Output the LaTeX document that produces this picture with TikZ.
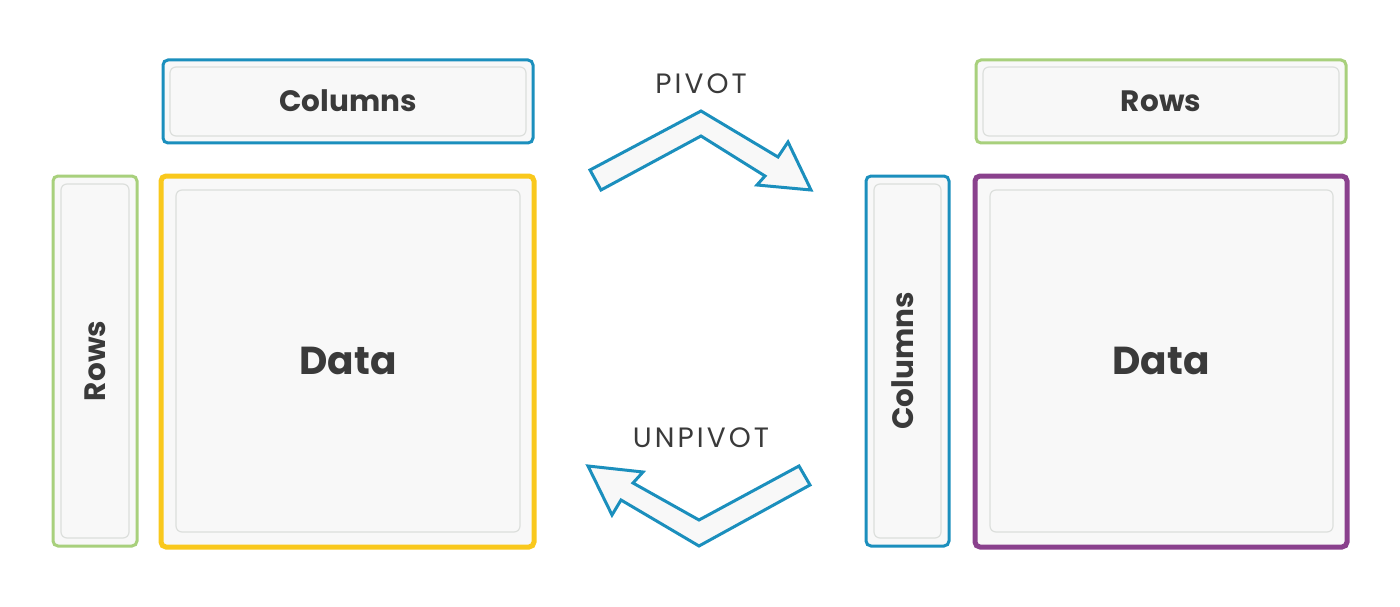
\documentclass[tikz,border=0pt]{standalone}
\usepackage{fontspec}
\setmainfont{Poppins}
\newfontfamily\opfont{Poppins}[LetterSpace=11]
\definecolor{cblue}{HTML}{1B8FBD}
\definecolor{cgreen}{HTML}{A8D07C}
\definecolor{cyellow}{HTML}{F9C81C}
\definecolor{cpurple}{HTML}{8A418D}
\definecolor{ctext}{HTML}{3A3A3A}
\definecolor{cfill}{HTML}{F8F8F8}
\definecolor{cinner}{HTML}{DCDFDC}
\begin{document}
\begin{tikzpicture}[x=1pt,y=-1pt,
  outerbox/.style={line width=3pt,rounded corners=5pt,fill=cfill},
  thickbox/.style={line width=5pt,rounded corners=5pt,fill=cfill},
  innerbox/.style={draw=cinner,line width=1.2pt,rounded corners=6pt},
  lbl/.style={text=ctext,font=\bfseries\fontsize{29.5}{34}\selectfont},
  biglbl/.style={text=ctext,font=\bfseries\fontsize{39}{46}\selectfont},
  oplbl/.style={text=ctext,font=\opfont\fontsize{28}{32}\selectfont},
  arrowshape/.style={draw=cblue,line width=3pt,fill=cfill,line join=miter}]
\useasboundingbox (0,0) rectangle (1400,607);
% left side
\draw[outerbox,draw=cblue] (163,60) rectangle (533,143);
\draw[innerbox] (170,67) rectangle (526,136);
\node[lbl] (lcol) at (348,101) {Columns};
\draw[thickbox,draw=cyellow] (161,176) rectangle (534,547);
\draw[innerbox] (176,190) rectangle (520,532);
\node[biglbl] (ldata) at (348,361) {Data};
\draw[outerbox,draw=cgreen] (53,176) rectangle (137,546);
\draw[innerbox] (61,184) rectangle (129,538);
\node[lbl,rotate=90] (lrows) at (95,361) {Rows};
% right side
\draw[outerbox,draw=cgreen] (976,60) rectangle (1346,143);
\draw[innerbox] (983,67) rectangle (1339,136);
\node[lbl] (rrows) at (1161,101) {Rows};
\draw[outerbox,draw=cblue] (866,176) rectangle (949,546);
\draw[innerbox] (874,184) rectangle (941,538);
\node[lbl,rotate=90] (rcol) at (903,361) {Columns};
\draw[thickbox,draw=cpurple] (975,176) rectangle (1347,547);
\draw[innerbox] (990,190) rectangle (1333,532);
\node[biglbl] (rdata) at (1161,361) {Data};
% arrows
\node[oplbl] (piv) at (701,84) {PIVOT};
\draw[arrowshape] (590,170) -- (701,111) -- (778,157) -- (788,142) -- (811,190) -- (757,185) -- (765,176) -- (701,136) -- (601,190) -- cycle;
\node[oplbl] (unpiv) at (701,438) {UNPIVOT};
\draw[arrowshape] (799,466) -- (810,485) -- (699,546) -- (621,500) -- (612,515) -- (588,466) -- (643,472) -- (633,483) -- (699,520) -- cycle;
\end{tikzpicture}
\end{document}
